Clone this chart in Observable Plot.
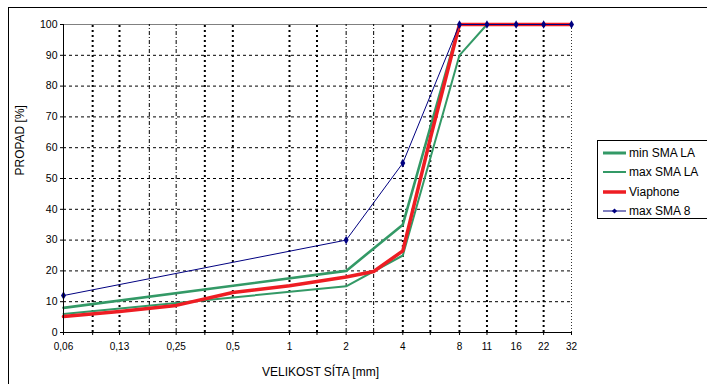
<!DOCTYPE html>
<html><head><meta charset="utf-8">
<script src="https://cdn.jsdelivr.net/npm/d3@7"></script>
<script src="https://cdn.jsdelivr.net/npm/@observablehq/plot@0.6"></script>
<style>
body{margin:0;background:#fff;}
#wrap{position:relative;width:707px;height:384px;overflow:hidden;font-family:Arial,"Liberation Sans",sans-serif;background:#fff;}
#frame{position:absolute;left:8px;top:7px;width:800px;height:500px;border-top:1px solid #000;border-left:1px solid #000;}
#chart{position:absolute;left:0;top:0;}
#legend{position:absolute;left:597px;top:140px;width:130px;height:77px;border:1px solid #000;background:#fff;}
.item{position:absolute;left:0;height:18px;width:130px;font-size:12px;color:#000;}
.item svg{position:absolute;left:4px;top:0;}
.item span{position:absolute;left:31px;top:1px;line-height:16px;white-space:nowrap;}
</style>
</head><body>
<div id="wrap"><div id="frame"></div><div id="chart"></div><div id="legend"></div></div>
<script>
// Sieve sizes (mm) and passing percentages
const minSmaLaX = [0.063, 2, 4, 8, 11.2, 16, 22.4, 31.5];
const minSmaLaY = [8, 20, 35, 100, 100, 100, 100, 100];
const maxSmaLaX = [0.063, 2, 4, 8, 11.2, 16, 22.4, 31.5];
const maxSmaLaY = [6, 15, 25, 90, 100, 100, 100, 100];
const viaphoneX = [0.063, 0.125, 0.25, 0.5, 1, 2, 2.8, 4, 5.6, 8, 11.2, 16, 22.4, 31.5];
const viaphoneY = [5.2, 6.8, 8.8, 13, 15.2, 18, 19.8, 26.5, 63, 100, 100, 100, 100, 100];
const maxSma8X = [0.063, 2, 4, 8, 11.2, 16, 22.4, 31.5];
const maxSma8Y = [12, 30, 55, 100, 100, 100, 100, 100];

const seriesNames = ["min SMA LA", "max SMA LA", "Viaphone", "max SMA 8"];

// axis ticks
const tickValues = [0.063, 0.125, 0.25, 0.5, 1, 2, 4, 8, 11.2, 16, 22.4, 31.5];
const tickLabels = ["0,06", "0,13", "0,25", "0,5", "1", "2", "4", "8", "11", "16", "22", "32"];
const gridThick = [0.09, 0.125, 0.355, 0.5, 1, 1.4, 4, 5.6, 8, 11.2, 16, 22.4];
const gridDashDot = [0.18, 0.25, 2, 2.8];
const gridEnd = [31.5];
const yTicks = [0, 10, 20, 30, 40, 50, 60, 70, 80, 90, 100];
const yGrid = [10, 20, 30, 40, 50, 60, 70, 80, 90];

const zip = (xs, ys) => xs.map((x, i) => ({x, y: ys[i]}));
const minSmaLa = zip(minSmaLaX, minSmaLaY);
const maxSmaLa = zip(maxSmaLaX, maxSmaLaY);
const viaphone = zip(viaphoneX, viaphoneY);
const maxSma8 = zip(maxSma8X, maxSma8Y);
const tickData = zip(tickValues, tickLabels);

const allTicks = Array.from(new Set([0.063, ...gridThick, ...gridDashDot, ...gridEnd])).sort((a,b)=>a-b);

const GREEN = "#339966", RED = "#ee1d23", NAVY = "#000080";

const svg = Plot.plot({
  width: 707, height: 384,
  marginLeft: 63, marginRight: 136, marginTop: 24, marginBottom: 52,
  style: {fontFamily: "Arial, 'Liberation Sans', sans-serif", fontSize: "10px", background: "transparent", color: "#000"},
  x: {type: "log", domain: [0.063, 31.5]},
  y: {domain: [0, 100]},
  marks: [
    Plot.ruleY(yGrid, {stroke: "#000", strokeWidth: 1, strokeDasharray: "3,3"}),
    Plot.ruleY([100], {stroke: "#808080", strokeWidth: 1}),
    Plot.ruleX(gridThick, {y1: 0, y2: 100, stroke: "#000", strokeWidth: 2, strokeDasharray: "2,3"}),
    Plot.ruleX(gridDashDot, {y1: 0, y2: 100, stroke: "#000", strokeWidth: 1, strokeDasharray: "4,2,1,2"}),
    Plot.ruleX(gridEnd, {y1: 0, y2: 100, stroke: "#333", strokeWidth: 1, strokeDasharray: "1,2"}),
    Plot.line(maxSmaLa, {x: "x", y: "y", stroke: GREEN, strokeWidth: 2}),
    Plot.line(minSmaLa, {x: "x", y: "y", stroke: GREEN, strokeWidth: 2.6}),
    Plot.line(viaphone, {x: "x", y: "y", stroke: RED, strokeWidth: 3.5}),
    Plot.line(maxSma8, {x: "x", y: "y", stroke: NAVY, strokeWidth: 1}),
    Plot.dot(maxSma8, {x: "x", y: "y", symbol: "diamond", r: 2.6, fill: NAVY}),
    Plot.ruleY([0], {stroke: "#000", strokeWidth: 1}),
    Plot.ruleX([0.063], {y1: 0, y2: 100, stroke: "#000", strokeWidth: 1}),
    Plot.axisX({ticks: allTicks, tickFormat: () => "", tickSize: 3, label: null}),
    Plot.text(tickData, {x: "x", text: "y", frameAnchor: "bottom", lineAnchor: "top", dy: 10, fontSize: 10}),
    Plot.axisY({ticks: yTicks, tickSize: 3, tickPadding: 3, fontSize: 10.5, label: null}),
    Plot.text(["VELIKOST SÍTA [mm]"], {text: d => d, frameAnchor: "bottom", dx: 3, dy: 43, fontSize: 12}),
    Plot.text(["PROPAD [%]"], {text: d => d, frameAnchor: "left", dx: -43, dy: -3, rotate: -90, fontSize: 12})
  ]
});
document.getElementById("chart").appendChild(svg);

// Legend
const legend = document.getElementById("legend");
const legendStyles = [
  {stroke: GREEN, w: 3, marker: false},
  {stroke: GREEN, w: 2, marker: false},
  {stroke: RED, w: 3.5, marker: false},
  {stroke: NAVY, w: 1, marker: true}
];
const legendTops = [3, 22, 42, 61];
seriesNames.forEach((name, i) => {
  const st = legendStyles[i];
  const div = document.createElement("div");
  div.className = "item";
  div.style.top = legendTops[i] + "px";
  div.innerHTML = `<svg width="26" height="18"><line x1="1" x2="24" y1="9" y2="9" stroke="${st.stroke}" stroke-width="${st.w}"/>${st.marker ? `<path d="M12.5,6.4L15.1,9L12.5,11.6L9.9,9Z" fill="${st.stroke}"/>` : ""}</svg><span>${name}</span>`;
  legend.appendChild(div);
});
</script>
</body></html>
